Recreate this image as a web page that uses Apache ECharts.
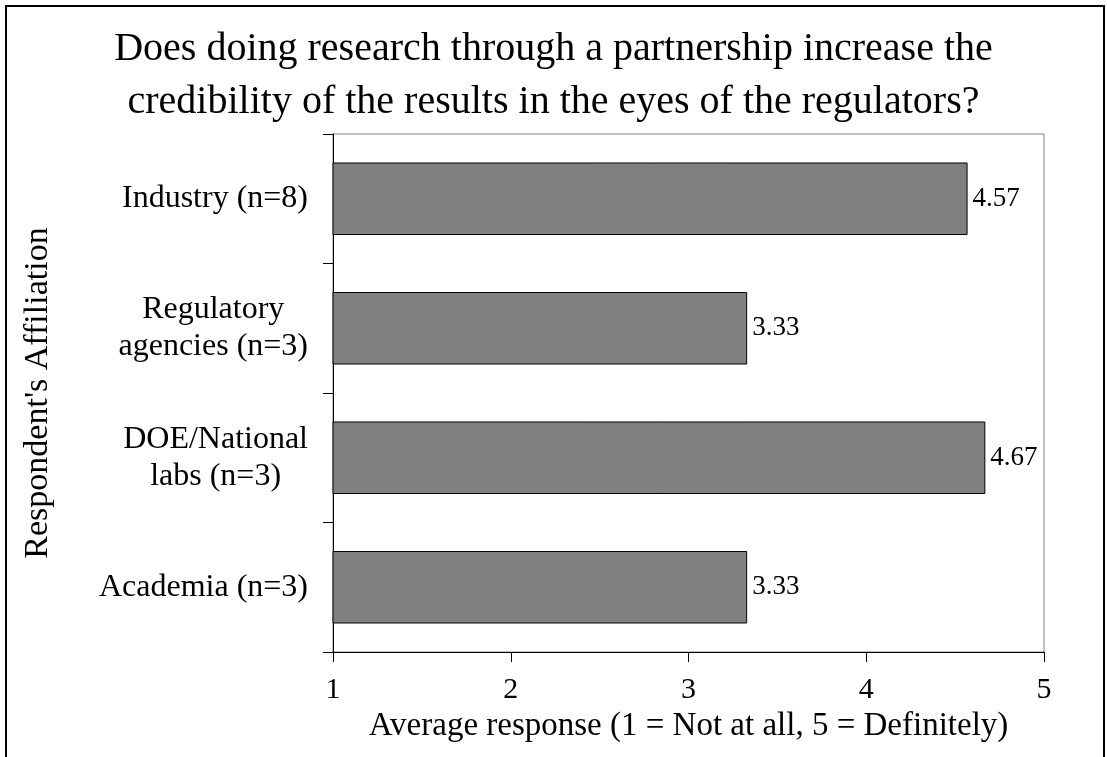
<!DOCTYPE html>
<html>
<head>
<meta charset="utf-8">
<style>
  html, body { margin: 0; padding: 0; background: #fff; }
  #chart { width: 1107px; height: 757px; }
</style>
<script src="https://cdn.jsdelivr.net/npm/echarts@6/dist/echarts.min.js"></script>
</head>
<body>
<div id="chart"></div>
<script>
// Survey answers: average response per respondent group (bottom to top)
const categories = ['Academia (n=3)', 'DOE/National\nlabs (n=3)', 'Regulatory\nagencies (n=3)', 'Industry (n=8)'];
const averages = [3.33, 4.67, 3.33, 4.57];
const xTicks = [1, 2, 3, 4, 5];

const titleText = 'Does doing research through a partnership increase the\ncredibility of the results in the eyes of the regulators?';
const xName = 'Average response (1 = Not at all, 5 = Definitely)';
const yName = "Respondent's Affiliation";

const serif = '"Liberation Serif", "Times New Roman", serif';

const chart = echarts.init(document.getElementById('chart'));
chart.setOption({
  backgroundColor: '#ffffff',
  animation: false,
  textStyle: { fontFamily: serif, color: '#000' },
  graphic: [{
    type: 'rect',
    shape: { x: 6, y: 6, width: 1098, height: 800 },
    style: { fill: 'none', stroke: '#000', lineWidth: 2 },
    silent: true
  }],
  title: {
    text: titleText,
    left: 'center',
    top: 18,
    textStyle: { fontFamily: serif, fontSize: 40, fontWeight: 'normal', color: '#000', lineHeight: 53 }
  },
  grid: {
    left: 333, right: 63, top: 134, bottom: 105,
    show: true, borderColor: '#808080', borderWidth: 1, backgroundColor: 'transparent'
  },
  xAxis: {
    type: 'value',
    min: xTicks[0],
    max: xTicks[xTicks.length - 1],
    interval: 1,
    name: xName,
    nameLocation: 'middle',
    nameGap: 56,
    nameTextStyle: { fontFamily: serif, fontSize: 33, color: '#000' },
    axisLine: { show: true, lineStyle: { color: '#000', width: 1 } },
    axisTick: { show: true, length: 10, lineStyle: { color: '#000' } },
    axisLabel: { fontFamily: serif, fontSize: 30, color: '#000', margin: 23 },
    splitLine: { show: false }
  },
  yAxis: {
    type: 'category',
    data: categories,
    name: yName,
    nameLocation: 'middle',
    nameRotate: 90,
    nameGap: 278,
    nameTextStyle: { fontFamily: serif, fontSize: 34, color: '#000' },
    axisLine: { show: true, lineStyle: { color: '#000', width: 1 } },
    axisTick: { show: true, length: 10, lineStyle: { color: '#000' } },
    axisLabel: {
      fontFamily: serif, fontSize: 32, color: '#000', margin: 25, lineHeight: 37,
      formatter: function (v) {
        return v.split('\n').map(function (line) { return '{c|' + line + '}'; }).join('\n');
      },
      rich: { c: { align: 'center', fontFamily: serif, fontSize: 32, lineHeight: 37, color: '#000' } }
    }
  },
  series: [{
    type: 'bar',
    data: averages,
    barWidth: '56%',
    itemStyle: { color: '#808080', borderColor: '#000', borderWidth: 1 },
    label: {
      show: true,
      position: 'right',
      distance: 5,
      fontFamily: serif,
      fontSize: 27,
      color: '#000',
      formatter: function (p) { return p.value.toFixed(2); }
    }
  }]
});
</script>
</body>
</html>
